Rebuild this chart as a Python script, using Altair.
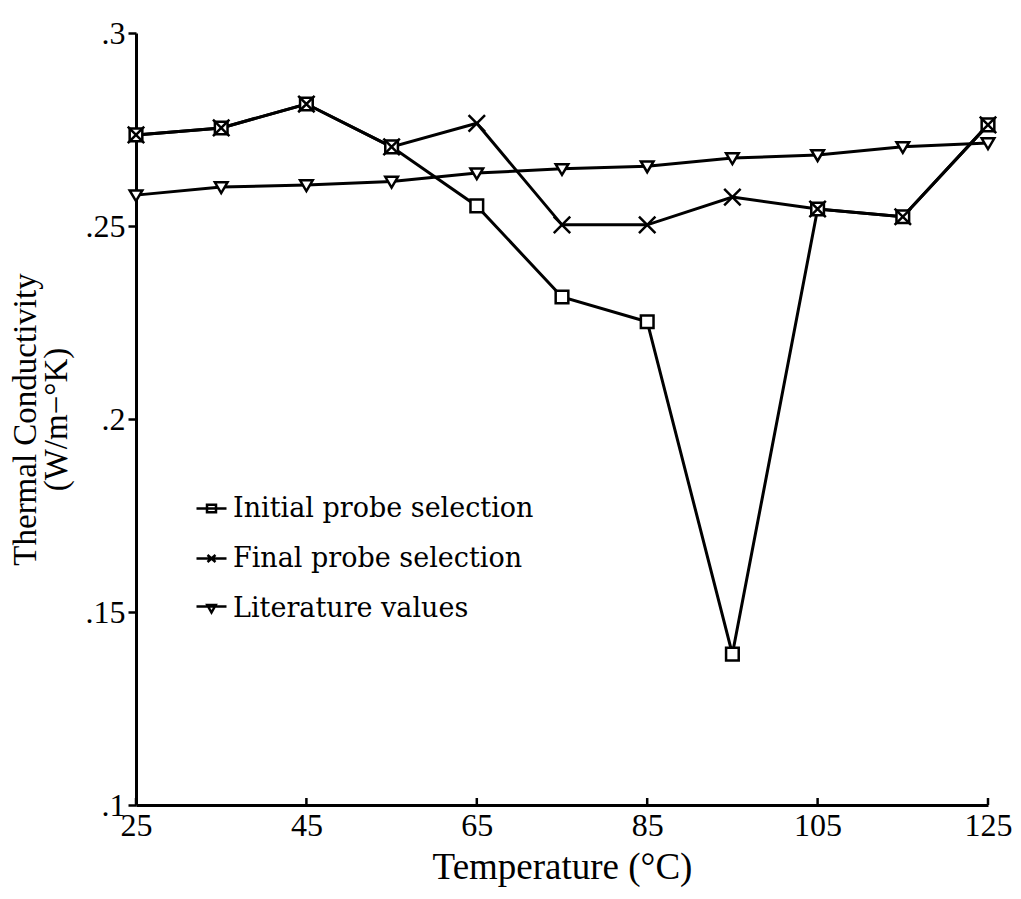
import altair as alt
import pandas as pd

temps = [25, 35, 45, 55, 65, 75, 85, 95, 105, 115, 125]
initial = [0.2736, 0.2754, 0.2816, 0.2705, 0.2552, 0.2316, 0.2252, 0.1391, 0.2544, 0.2524, 0.2762]
final = [0.2736, 0.2754, 0.2816, 0.2705, 0.2766, 0.2503, 0.2503, 0.2575, 0.2544, 0.2524, 0.2762]
literature = [0.2580, 0.2601, 0.2606, 0.2615, 0.2637, 0.2648, 0.2655, 0.2676, 0.2684, 0.2705, 0.2715]
series_names = ["Initial probe selection", "Final probe selection", "Literature values"]
x_ticks = [25, 45, 65, 85, 105, 125]
y_ticks = [0.1, 0.15, 0.2, 0.25, 0.3]

rows = []
for name, vals in zip(series_names, [initial, final, literature]):
    for t, v in zip(temps, vals):
        rows.append({"temp": t, "k": v, "series": name, "legend": name})
df = pd.DataFrame(rows)
ticks_df = pd.DataFrame({"temp": x_ticks})

W, H = 852, 772
SERIF = "Liberation Serif"

xscale = alt.Scale(domain=[25, 125], nice=False, zero=False)
yscale = alt.Scale(domain=[0.1, 0.3], nice=False, zero=False)

x_axis = alt.Axis(
    values=x_ticks, title="Temperature (°C)", ticks=False, grid=False,
    labelFont=SERIF, labelFontSize=32, labelColor="black", labelPadding=5,
    titleFont=SERIF, titleFontSize=37, titleFontWeight="normal", titleColor="black",
    titlePadding=8, domainWidth=3, domainColor="black", labelFlush=False,
)
y_axis = alt.Axis(
    values=y_ticks, title=["Thermal Conductivity", "(W/m−°K)"], grid=False,
    labelExpr="slice(format(datum.value, '.2~f'), 1)",
    labelFont=SERIF, labelFontSize=32, labelColor="black", labelPadding=3,
    tickSize=8, tickWidth=2.5, tickColor="black",
    titleFont=SERIF, titleFontSize=33, titleFontWeight="normal", titleColor="black",
    titleLineHeight=31, titlePadding=12,
    domainWidth=3, domainColor="black", labelFlush=False,
)

X = alt.X("temp:Q", scale=xscale, axis=x_axis)
Y = alt.Y("k:Q", scale=yscale, axis=y_axis)

SQUARE = "M-1,-1H1V1H-1Z"
XMARK = "M-1.3,-1.3L1.3,1.3M-1.3,1.3L1.3,-1.3"
TRI = "M-1,-0.75H1L0,0.95Z"

LEG_SQ = "M-1.5,0H1.5M-0.45,-0.38H0.45V0.38H-0.45Z"
LEG_X = "M-1.5,0H1.5M-0.4,-0.35L0.4,0.35M-0.4,0.35L0.4,-0.35"
LEG_TRI = "M-1.5,-0.2H1.5M-0.42,-0.35H0.42L0,0.4Z"

lines = alt.Chart(df).mark_line(color="black", strokeWidth=3).encode(
    x=X, y=Y, detail="series:N"
)

points = alt.Chart(df).mark_point(
    filled=False, fill="white", fillOpacity=1, stroke="black", strokeWidth=2.5,
    size=160, opacity=1
).encode(
    x=X, y=Y,
    shape=alt.Shape("series:N", scale=alt.Scale(domain=series_names, range=[SQUARE, XMARK, TRI]), legend=None),
)

legend_layer = alt.Chart(df).mark_point(opacity=0, size=400).encode(
    x=X, y=Y,
    shape=alt.Shape(
        "legend:N",
        scale=alt.Scale(domain=series_names, range=[LEG_SQ, LEG_X, LEG_TRI]),
        legend=alt.Legend(
            title=None, orient="none", legendX=62, legendY=462, padding=0,
            symbolSize=400, symbolStrokeWidth=2.5, symbolStrokeColor="black",
            symbolFillColor="transparent", symbolOpacity=1,
            labelFont="DejaVu Serif", labelFontSize=27, labelColor="black",
            labelOffset=8, rowPadding=22, labelLimit=0,
        ),
    ),
)

xticks_layer = alt.Chart(ticks_df).mark_rule(color="black", strokeWidth=2.5).encode(
    x=X, y=alt.value(H), y2=alt.value(H - 7)
)

chart = alt.layer(lines, xticks_layer, points, legend_layer).resolve_scale(
    shape="independent"
).properties(
    width=W, height=H,
    autosize=alt.AutoSizeParams(type="none"),
    padding={"left": 136, "top": 33, "right": 33, "bottom": 94},
    background="white",
).configure_view(stroke=None)

chart.save("out.html", embed_options={"renderer": "svg", "actions": False})
